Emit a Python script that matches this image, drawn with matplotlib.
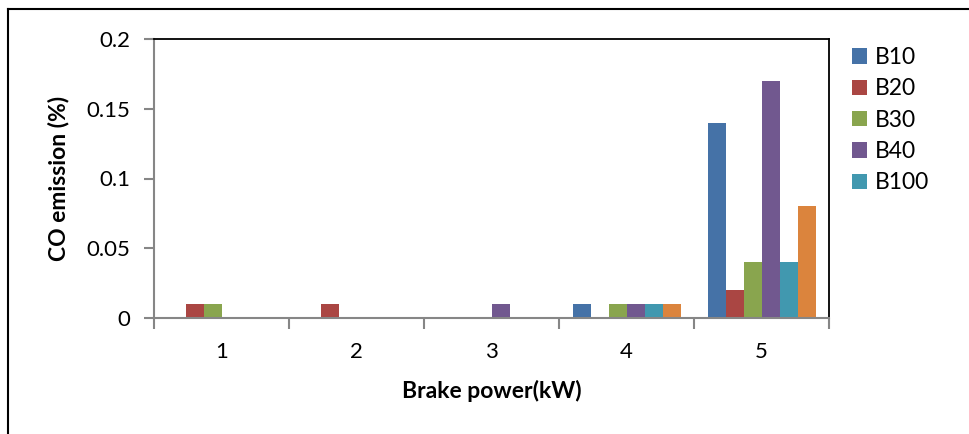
import numpy as np
import matplotlib.pyplot as plt
from matplotlib.lines import Line2D

plt.rcParams['font.family'] = ['Lato', 'DejaVu Sans']

# data
brake_power = [1, 2, 3, 4, 5]
series_names = ["B10", "B20", "B30", "B40", "B100", "Diesel"]
b10 = [0, 0, 0, 0.01, 0.14]
b20 = [0.01, 0.01, 0, 0, 0.02]
b30 = [0.01, 0, 0, 0.01, 0.04]
b40 = [0, 0, 0.01, 0.01, 0.17]
b100 = [0, 0, 0, 0.01, 0.04]
diesel = [0, 0, 0, 0.01, 0.08]
colors = ["#4572A7", "#AA4643", "#89A54E", "#71588F", "#4198AF", "#DB843D"]
y_ticks = [0, 0.05, 0.1, 0.15, 0.2]
y_labels = ["0", "0.05", "0.1", "0.15", "0.2"]

fs = 16

fig = plt.figure(figsize=(9.69, 4.34), dpi=100)
ax = fig.add_axes([154/969, 1-318/434, 675/969, 279/434])

x = np.arange(len(brake_power))
w = 0.8 / 6
all_series = [b10, b20, b30, b40, b100, diesel]
for i, vals in enumerate(all_series):
    lab = series_names[i] if i < 5 else "_nolegend_"
    ax.bar(x - 0.4 + w/2 + i*w, vals, width=w, color=colors[i], label=lab)

ax.set_xlim(-0.5, len(brake_power) - 0.5)
ax.set_ylim(0, 0.2)
ax.set_yticks(y_ticks)
ax.set_yticklabels(y_labels, fontsize=fs)
ax.set_xticks(x)
ax.set_xticklabels([str(b) for b in brake_power], fontsize=fs)
ax.set_xticks(np.arange(len(brake_power) + 1) - 0.5, minor=True)
ax.tick_params(axis='x', which='major', length=0, pad=17)
ax.tick_params(axis='x', which='minor', length=8, color='#868686', width=1.5)
ax.tick_params(axis='y', length=7, color='#868686', width=1.5, pad=10)

for s in ['left', 'bottom']:
    ax.spines[s].set_color('#868686')
    ax.spines[s].set_linewidth(1.5)
for s in ['top', 'right']:
    ax.spines[s].set_color('black')
    ax.spines[s].set_linewidth(1.3)

ax.set_ylabel("CO emission (%)", fontsize=16.5, fontweight='bold', labelpad=12)
ax.set_xlabel("Brake power(kW)", fontsize=16.5, fontweight='bold', labelpad=13)

ax.legend(loc='upper left', bbox_to_anchor=(843/969, 1-38/434), bbox_transform=fig.transFigure,
          frameon=False, fontsize=16.5, handlelength=0.65, handleheight=0.65,
          handletextpad=0.35, labelspacing=0.45, borderaxespad=0)

# outer chart frame (cropped)
fig.add_artist(Line2D([8/969, 8/969], [0, 1-9/434], color='black', lw=1.5, transform=fig.transFigure))
fig.add_artist(Line2D([8/969, 1], [1-9/434, 1-9/434], color='black', lw=1.5, transform=fig.transFigure))

fig.savefig("out.png", dpi=100)
